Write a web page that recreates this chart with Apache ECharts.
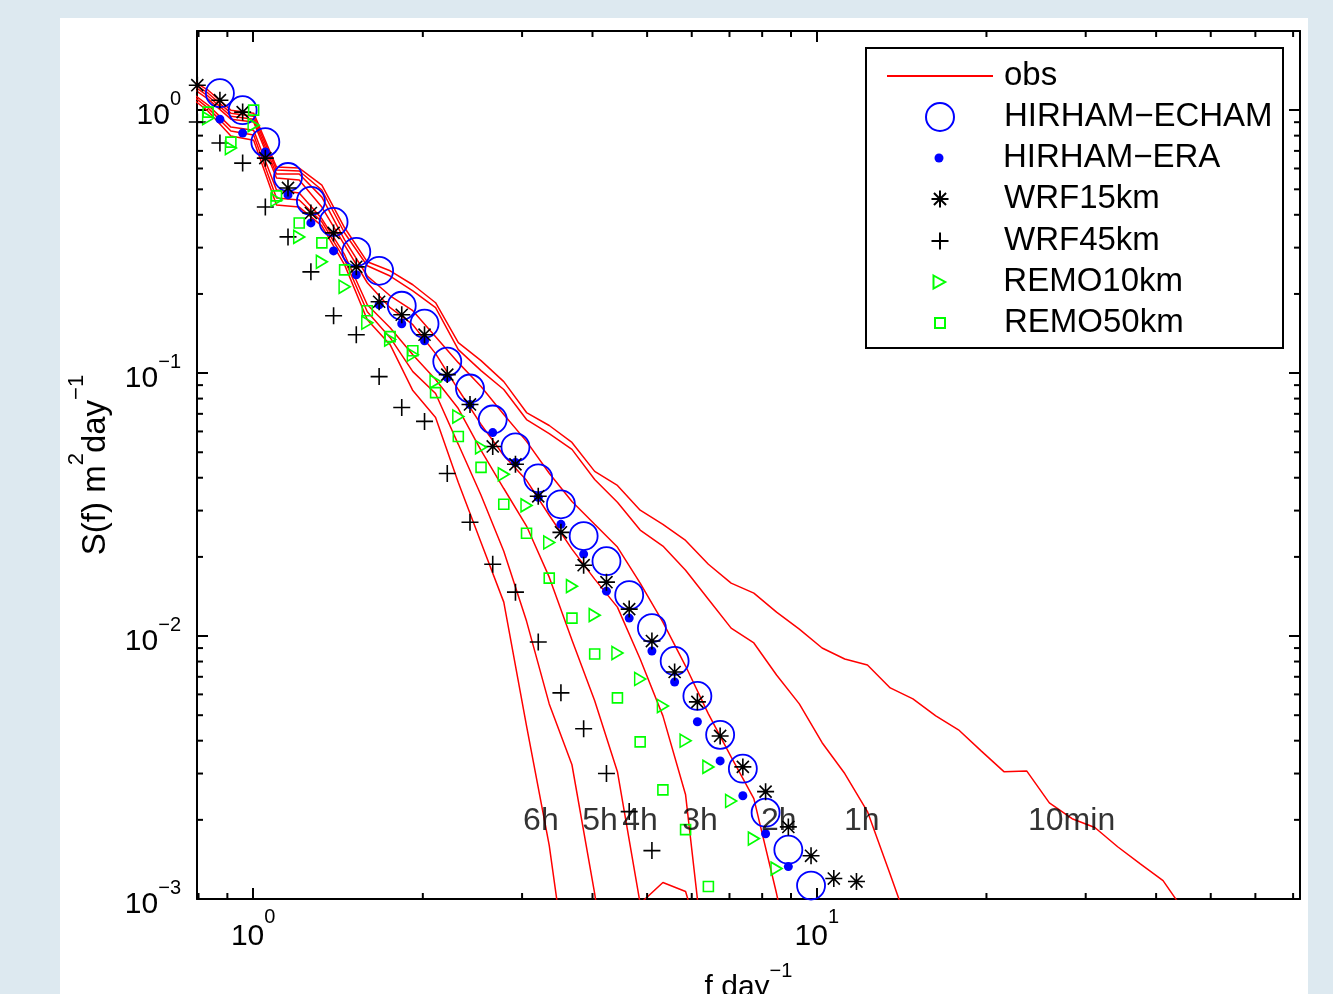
<!DOCTYPE html>
<html>
<head>
<meta charset="utf-8">
<title>Spectra</title>
<script src="https://cdn.jsdelivr.net/npm/echarts@6/dist/echarts.min.js"></script>
<style>
  html, body { margin: 0; padding: 0; background: #dde9f0; }
  #panel { position: absolute; left: 60px; top: 18px; width: 1248px; height: 976px; background: #fff; }
  #chart { position: absolute; left: 0; top: 0; width: 1333px; height: 994px; }
</style>
</head>
<body>
<div id="panel"></div>
<div id="chart"></div>
<script>
const FONT = '"Liberation Sans", Arial, Helvetica, sans-serif'

// frequency bins (day^-1)
const freqObs = [0.758, 0.832, 0.913, 1.002, 1.100, 1.207, 1.324, 1.453, 1.594, 1.750, 1.920, 2.107, 2.312, 2.537, 2.784, 3.055, 3.352, 3.678, 4.036, 4.429, 4.860, 5.333, 5.851, 6.422, 7.047, 7.733, 8.484, 9.311, 10.22, 11.21, 12.30, 13.50, 14.81, 16.26, 17.84, 19.57, 21.48, 23.57, 25.86, 28.38, 31.14, 34.18, 37.50, 41.15, 45.15]
const freqModel = [0.796, 0.873, 0.958, 1.051, 1.153, 1.266, 1.389, 1.524, 1.673, 1.835, 2.014, 2.210, 2.425, 2.661, 2.920, 3.205, 3.516, 3.858, 4.235, 4.647, 5.099, 5.595, 6.140, 6.738, 7.393, 8.113, 8.903, 9.768, 10.72, 11.76]

// observed spectra, one per sampling interval
const obs6h = [1.160, 0.991, 0.797, 0.769, 0.436, 0.428, 0.363, 0.258, 0.1596, 0.1283, 0.0858, 0.0678, 0.0384, 0.0227, 0.01346, 0.00455, 0.00160, 0.000384]
const obs5h = [1.191, 1.018, 0.833, 0.804, 0.463, 0.455, 0.376, 0.270, 0.1712, 0.1364, 0.1013, 0.0836, 0.0536, 0.0343, 0.0210, 0.01140, 0.00552, 0.00324, 0.001049, 0.000271]
const obs4h = [1.212, 1.045, 0.862, 0.839, 0.497, 0.484, 0.386, 0.282, 0.1820, 0.1488, 0.1175, 0.0945, 0.0733, 0.0508, 0.0364, 0.0262, 0.01675, 0.00966, 0.00567, 0.00305, 0.000961, 0.001155, 0.001068, 0.000545]
const obs3h = [1.266, 1.101, 0.924, 0.901, 0.552, 0.542, 0.428, 0.307, 0.2206, 0.1773, 0.1528, 0.1186, 0.0866, 0.0638, 0.0486, 0.0391, 0.0288, 0.0214, 0.01646, 0.01288, 0.00818, 0.00497, 0.00249, 0.000430]
const obs2h = [1.300, 1.130, 0.949, 0.924, 0.572, 0.572, 0.467, 0.321, 0.234, 0.1968, 0.1727, 0.1376, 0.1096, 0.0889, 0.0696, 0.0550, 0.0416, 0.0325, 0.0266, 0.0218, 0.01589, 0.01130, 0.00769, 0.00506, 0.00347, 0.00241, 0.001049, 0.000419]
const obs1h = [1.323, 1.160, 0.974, 0.949, 0.592, 0.587, 0.497, 0.341, 0.256, 0.234, 0.2056, 0.1773, 0.1228, 0.1022, 0.0866, 0.0666, 0.0589, 0.0513, 0.0394, 0.0323, 0.0253, 0.0220, 0.01780, 0.01381, 0.01072, 0.00941, 0.00711, 0.00552, 0.00393, 0.00300, 0.00215, 0.00124, 0.000708]
const obs10min = [1.346, 1.191, 1.000, 0.974, 0.608, 0.602, 0.519, 0.357, 0.265, 0.245, 0.2168, 0.1852, 0.1305, 0.1115, 0.0928, 0.0708, 0.0632, 0.0545, 0.0423, 0.0374, 0.0301, 0.0266, 0.0231, 0.01875, 0.01589, 0.01456, 0.01233, 0.01063, 0.00901, 0.00818, 0.00776, 0.00635, 0.00577, 0.00497, 0.00440, 0.00366, 0.00305, 0.00307, 0.00232, 0.00202, 0.00187, 0.00158, 0.00136, 0.001175, 0.000881]

// model spectra
const hirhamEcham = [1.160, 1.000, 0.756, 0.557, 0.4515, 0.3758, 0.2891, 0.2449, 0.1804, 0.1541, 0.1106, 0.0874, 0.0666, 0.0522, 0.0398, 0.0317, 0.0240, 0.01926, 0.01431, 0.01072, 0.00804, 0.00592, 0.00421, 0.00313, 0.00213, 0.00154, 0.001125]
const hirhamEra = [0.924, 0.818, 0.693, 0.476, 0.3725, 0.2916, 0.2365, 0.1820, 0.1541, 0.1328, 0.0961, 0.0760, 0.0594, 0.0457, 0.0337, 0.0266, 0.0205, 0.01482, 0.01170, 0.00877, 0.00669, 0.00472, 0.00335, 0.00247, 0.00177, 0.001328]
const wrf15 = [1.244, 1.091, 0.983, 0.657, 0.506, 0.4064, 0.3413, 0.2536, 0.1868, 0.1667, 0.1400, 0.0987, 0.0760, 0.0526, 0.0450, 0.0340, 0.0248, 0.0186, 0.01603, 0.01266, 0.00957, 0.00730, 0.00562, 0.00417, 0.00318, 0.00256, 0.00188, 0.00146, 0.001196, 0.001165]
const wrf45 = [0.901, 0.750, 0.629, 0.4284, 0.3296, 0.2427, 0.1653, 0.1400, 0.0970, 0.0740, 0.0655, 0.0415, 0.0271, 0.01875, 0.01469, 0.00949, 0.00608, 0.00444, 0.00300, 0.00215, 0.001528]
const remo10 = [0.932, 0.718, 0.877, 0.4555, 0.3296, 0.2649, 0.2130, 0.1555, 0.1341, 0.1175, 0.0928, 0.0684, 0.0522, 0.0412, 0.0314, 0.0227, 0.01548, 0.01201, 0.00862, 0.00687, 0.00542, 0.00400, 0.00318, 0.00236, 0.001697, 0.001305]
const remo50 = [0.983, 0.756, 1.000, 0.472, 0.3725, 0.3129, 0.2470, 0.1727, 0.1376, 0.1217, 0.0843, 0.0574, 0.0438, 0.0317, 0.0246, 0.0166, 0.01170, 0.00855, 0.00582, 0.00396, 0.00260, 0.001836, 0.001115]

// period annotations
const periodNames = ['6h', '5h', '4h', '3h', '2h', '1h', '10min']
const periodFreq = [3.240, 4.124, 4.856, 6.204, 8.563, 12.02, 28.32]
const periodLevel = 0.00197

// minor tick values
const xMinorTicks = [0.8, 0.9, 2, 3, 4, 5, 6, 7, 8, 9, 20, 30, 40, 50, 60, 70]
const yMinorTicks = [0.002, 0.003, 0.004, 0.005, 0.006, 0.007, 0.008, 0.009, 0.02, 0.03, 0.04, 0.05, 0.06, 0.07, 0.08, 0.09, 0.2, 0.3, 0.4, 0.5, 0.6, 0.7, 0.8, 0.9]

const X_MIN = 0.795
const X_MAX = 72
const Y_MIN = 0.001
const Y_MAX = 2

const pairs = (xs, ys) => ys.map((y, i) => [xs[i], y])

const asteriskPath = 'path://M10,0L10,20M0,10L20,10M2.9,2.9L17.1,17.1M2.9,17.1L17.1,2.9'
const plusPath = 'path://M10,0L10,20M0,10L20,10'
const trianglePath = 'path://M0,0L18,10L0,20Z'
const squarePath = 'path://M0,0L10,0L10,10L0,10Z'

const expLabel = (v) => {
  const e = Math.log10(v)
  const r = Math.round(e)
  if (Math.abs(e - r) > 1e-6) return ''
  return '{b|10}{s|' + String(r).replace('-', '\u2212') + '}'
}

const richTick = (pad) => ({
  b: { fontSize: 30, fontFamily: FONT, color: '#000', padding: [pad, 0, 0, 0], verticalAlign: 'bottom' },
  s: { fontSize: 20, fontFamily: FONT, color: '#000', verticalAlign: 'top' }
})

const richName = (size, supSize, pad) => ({
  b: { fontSize: size, fontFamily: FONT, color: '#000', padding: [pad, 0, 0, 0], verticalAlign: 'bottom' },
  s: { fontSize: supSize, fontFamily: FONT, color: '#000', verticalAlign: 'top' }
})

const axisLine = { lineStyle: { color: '#000', width: 2 } }
const majorTick = { inside: true, length: 11, lineStyle: { color: '#000', width: 2 } }

const chart = echarts.init(document.getElementById('chart'), null, { renderer: 'canvas' })

const obsSeries = [obs6h, obs5h, obs4h, obs3h, obs2h, obs1h, obs10min].map((ys) => ({
  type: 'line',
  name: 'obs',
  data: pairs(freqObs, ys),
  symbol: 'none',
  lineStyle: { color: '#ff0000', width: 1.5 },
  itemStyle: { color: '#ff0000' },
  clip: true,
  z: 2
}))

const markerSeries = [
  {
    name: 'HIRHAM\u2212ECHAM', data: pairs(freqModel.slice(1), hirhamEcham), symbol: 'circle', symbolSize: 28,
    itemStyle: { color: 'rgba(0,0,0,0)', borderColor: '#0000ff', borderWidth: 1.8 }
  },
  {
    name: 'HIRHAM\u2212ERA', data: pairs(freqModel.slice(1), hirhamEra), symbol: 'circle', symbolSize: 9,
    itemStyle: { color: '#0000ff' }
  },
  {
    name: 'WRF15km', data: pairs(freqModel, wrf15), symbol: asteriskPath, symbolSize: 17,
    itemStyle: { color: 'rgba(0,0,0,0)', borderColor: '#000', borderWidth: 1.6 }
  },
  {
    name: 'WRF45km', data: pairs(freqModel, wrf45), symbol: plusPath, symbolSize: 17,
    itemStyle: { color: 'rgba(0,0,0,0)', borderColor: '#000', borderWidth: 1.6 }
  },
  {
    name: 'REMO10km', data: pairs(freqObs.slice(1), remo10), symbol: trianglePath, symbolSize: [11, 13],
    itemStyle: { color: 'rgba(0,0,0,0)', borderColor: '#00ff00', borderWidth: 1.6 }
  },
  {
    name: 'REMO50km', data: pairs(freqObs.slice(1), remo50), symbol: squarePath, symbolSize: 10,
    itemStyle: { color: 'rgba(0,0,0,0)', borderColor: '#00ff00', borderWidth: 1.6 }
  }
].map((s) => Object.assign({ type: 'scatter', z: 3 }, s, {
  itemStyle: Object.assign({ opacity: 1 }, s.itemStyle)
}))

const periodSeries = {
  type: 'scatter',
  name: 'periods',
  data: periodNames.map((n, i) => ({ name: n, value: [periodFreq[i], periodLevel] })),
  symbolSize: 1,
  itemStyle: { color: 'rgba(0,0,0,0)' },
  label: { show: true, position: 'inside', formatter: '{b}', fontSize: 32, fontFamily: FONT, color: '#000' },
  silent: true,
  z: 4
}

const minorLine = (x1, y1, x2, y2) => ({
  type: 'line',
  shape: { x1, y1, x2, y2 },
  style: { stroke: '#000', lineWidth: 2 }
})

const xMinorSeries = {
  type: 'custom',
  name: 'xminor',
  silent: true,
  data: xMinorTicks.map((v) => [v, 1]),
  renderItem: (params, api) => {
    const cs = params.coordSys
    const x = api.coord([api.value(0), 1])[0]
    return {
      type: 'group',
      children: [
        minorLine(x, cs.y + cs.height, x, cs.y + cs.height - 6),
        minorLine(x, cs.y, x, cs.y + 6)
      ]
    }
  },
  z: 5
}

const yMinorSeries = {
  type: 'custom',
  name: 'yminor',
  silent: true,
  data: yMinorTicks.map((v) => [1, v]),
  renderItem: (params, api) => {
    const cs = params.coordSys
    const y = api.coord([1, api.value(1)])[1]
    return {
      type: 'group',
      children: [
        minorLine(cs.x, y, cs.x + 6, y),
        minorLine(cs.x + cs.width, y, cs.x + cs.width - 6, y)
      ]
    }
  },
  z: 5
}

// legend: one component per row so that every icon keeps its own size.
// marker icons sit centred at x=939, text starts at x=1003
const ICON_X = 939
const legendRows = [
  { name: 'obs', center: 75, h: 14 },
  { name: 'HIRHAM\u2212ECHAM', center: 116, h: 28 },
  { name: 'HIRHAM\u2212ERA', center: 157, h: 9 },
  { name: 'WRF15km', center: 198, h: 17 },
  { name: 'WRF45km', center: 240, h: 17 },
  { name: 'REMO10km', center: 281, h: 13 },
  { name: 'REMO50km', center: 322, h: 10 }
]

const legends = legendRows.map((r) => {
  const isLine = r.name === 'obs'
  return {
    data: [r.name],
    left: isLine ? 886 : ICON_X - r.h / 2,
    top: r.center - 15.5,
    padding: 0,
    itemWidth: isLine ? 106 : 118,
    itemHeight: r.h,
    selectedMode: false,
    z: 6,
    itemStyle: isLine ? { opacity: 0 } : { opacity: 1 },
    textStyle: {
      fontSize: 33, lineHeight: 32, fontFamily: FONT, color: '#000',
      padding: isLine ? [0, 0, 0, 6] : 0
    }
  }
})

chart.setOption({
  animation: false,
  backgroundColor: 'transparent',
  grid: { left: 197, top: 31, right: 33, bottom: 95, containLabel: false, outerBoundsMode: 'none' },
  legend: legends,
  graphic: [{
    type: 'rect',
    z: 5,
    shape: { x: 866, y: 48, width: 417, height: 300 },
    style: { fill: '#fff', stroke: '#000', lineWidth: 2 }
  }],
  xAxis: [
    {
      type: 'log', logBase: 10, min: X_MIN, max: X_MAX, position: 'bottom',
      axisLine, axisTick: majorTick,
      axisLabel: { margin: 8, formatter: expLabel, rich: richTick(15) },
      splitLine: { show: false },
      name: '{b|f day}{s|\u22121}', nameLocation: 'middle', nameGap: 62, nameMoveOverlap: false,
      nameTextStyle: { rich: richName(30, 20, 12) }
    },
    {
      type: 'log', logBase: 10, min: X_MIN, max: X_MAX, position: 'top',
      axisLine, axisTick: majorTick, axisLabel: { show: false }, splitLine: { show: false }
    }
  ],
  yAxis: [
    {
      type: 'log', logBase: 10, min: Y_MIN, max: Y_MAX, position: 'left',
      axisLine, axisTick: majorTick,
      axisLabel: { margin: 16, formatter: expLabel, rich: richTick(12) },
      splitLine: { show: false },
      name: '{b|S(f) m}{s|2}{b|day}{s|\u22121}', nameLocation: 'middle', nameRotate: 90, nameGap: 85, nameMoveOverlap: false,
      nameTextStyle: { rich: richName(33, 22, 13) }
    },
    {
      type: 'log', logBase: 10, min: Y_MIN, max: Y_MAX, position: 'right',
      axisLine, axisTick: majorTick, axisLabel: { show: false }, splitLine: { show: false }
    }
  ],
  series: [...obsSeries, ...markerSeries, periodSeries, xMinorSeries, yMinorSeries]
})
</script>
</body>
</html>
